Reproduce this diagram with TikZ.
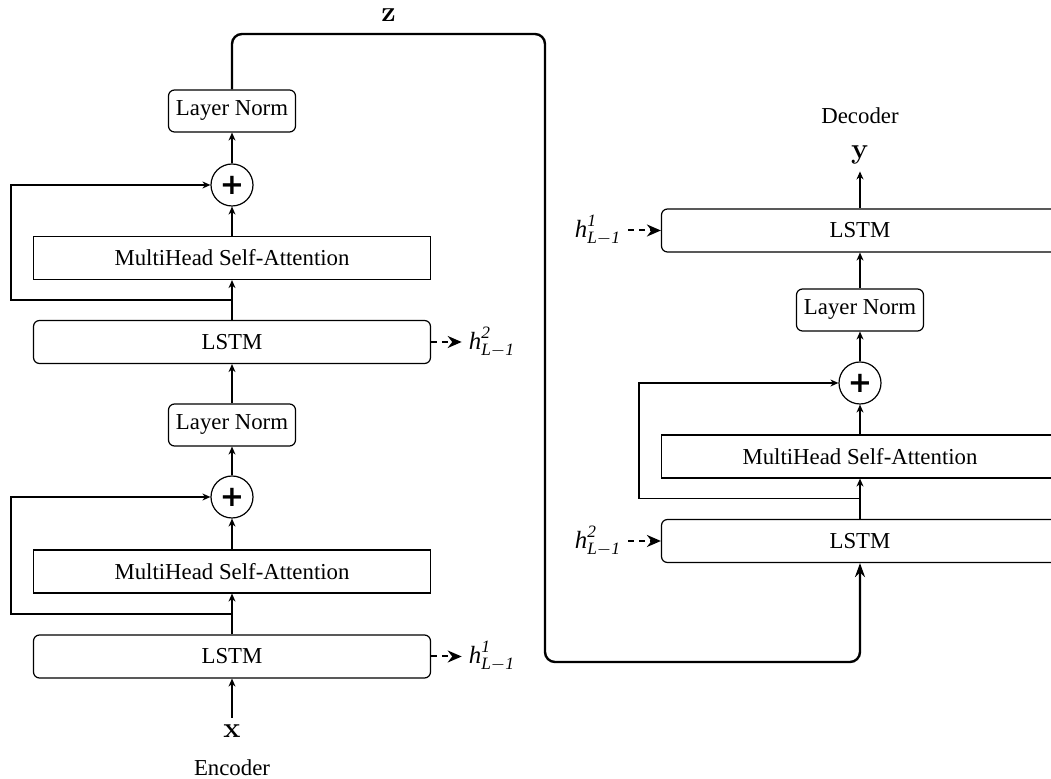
\documentclass[tikz,border=0pt]{standalone}
\usepackage[no-math]{fontspec}
\setmainfont{Liberation Serif}
\newfontfamily\plusfont{DejaVu Sans}
\usepackage{amsmath}
\usepackage{tikz}
\usetikzlibrary{positioning,calc,arrows.meta}
\tikzset{%
  block/.style  = {draw, rectangle, rounded corners=3pt, minimum height=21.5pt,
    minimum width=198.5pt},
  attn/.style   = {draw, rectangle, minimum height=21.5pt, minimum width=198.5pt},
  norm/.style   = {draw, rectangle, rounded corners=3pt, minimum height=21pt,
    minimum width=63.5pt},
  sum/.style    = {draw, circle, minimum size=21pt, inner sep=0pt,
    font=\plusfont\fontsize{14.5}{16}\selectfont\bfseries}, % Adder
  vec/.style    = {font=\fontsize{14.6}{17}\selectfont},
  hlabel/.style = {font=\fontsize{12.4}{15}\selectfont},
  hidden/.style = {dash pattern=on 3pt off 2.4pt, line width=1pt,
    -{Stealth[length=7pt,width=6pt]}},
  zline/.style  = {line width=1.2pt, rounded corners=5pt,
    -{Stealth[length=7pt,width=5pt]}}
}
\newcommand{\hstate}[1]{$\textit{h}^{\textit{#1}}_{\textit{L}-\textit{1}}$}

\begin{document}
\begin{tikzpicture}[line width=0.6pt, >={Stealth[length=4pt,width=3.5pt]},
  font=\fontsize{11.4}{13.7}\selectfont]

  \useasboundingbox (0,0) rectangle (525.5pt,-389.5pt);

  % encoder
  \node at (116pt,-328.25pt) [block] (lstmA) {LSTM};
  \node [attn, above of=lstmA, node distance=42.5pt] (mhsaA) {MultiHead Self-Attention};
  \node [sum, above of=mhsaA, node distance=37.25pt] (sumA) {+};
  \node [norm, above of=sumA, node distance=36pt] (normA) {Layer Norm};
  \node [block, above of=normA, node distance=41.5pt] (lstmB) {LSTM};
  \node [attn, above of=lstmB, node distance=42pt] (mhsaB) {MultiHead Self-Attention};
  \node [sum, above of=mhsaB, node distance=36.5pt] (sumB) {+};
  \node [norm, above of=sumB, node distance=37pt] (normB) {Layer Norm};

  \node [vec, below of=lstmA, node distance=37.5pt] (xIn) {$\mathbf{x}$};
  \node [below of=xIn, node distance=18.25pt] (encLabel) {Encoder};
  \node [hlabel, right of=lstmA, node distance=130pt] (hA1) {\hstate{1}};
  \node [hlabel, right of=lstmB, node distance=130pt] (hB2) {\hstate{2}};

  % decoder
  \node at (430pt,-270.5pt) [block] (lstmC) {LSTM};
  \node [attn, above of=lstmC, node distance=42.25pt] (mhsaC) {MultiHead Self-Attention};
  \node [sum, above of=mhsaC, node distance=36.75pt] (sumC) {+};
  \node [norm, above of=sumC, node distance=36.5pt] (normC) {Layer Norm};
  \node [block, above of=normC, node distance=39.75pt] (lstmD) {LSTM};

  \node [vec, above of=lstmD, node distance=37.75pt] (yOut) {$\mathbf{y}$};
  \node [above of=yOut, node distance=19.5pt] (decLabel) {Decoder};
  \node [hlabel, left of=lstmC, node distance=131pt] (hC2) {\hstate{2}};
  \node [hlabel, left of=lstmD, node distance=131pt] (hD1) {\hstate{1}};

  % split points of the residual paths
  \coordinate (splitA) at ($(lstmA.north)!0.5!(mhsaA.south)$);
  \coordinate (splitB) at ($(lstmB.north)!0.5!(mhsaB.south)$);
  \coordinate (splitC) at ($(lstmC.north)!0.5!(mhsaC.south)$);

  \draw[->] (xIn) -- (lstmA);
  \draw[->] (lstmA) -- (mhsaA);
  \draw[->] (mhsaA) -- (sumA);
  \draw[->] (sumA) -- (normA);
  \draw[->] (normA) -- (lstmB);
  \draw[->] (lstmB) -- (mhsaB);
  \draw[->] (mhsaB) -- (sumB);
  \draw[->] (sumB) -- (normB);
  \draw[->] (splitA) -| ([xshift=-11pt]mhsaA.west) |- (sumA);
  \draw[->] (splitB) -| ([xshift=-11pt]mhsaB.west) |- (sumB);

  \draw[->] (lstmC) -- (mhsaC);
  \draw[->] (mhsaC) -- (sumC);
  \draw[->] (sumC) -- (normC);
  \draw[->] (normC) -- (lstmD);
  \draw[->] (lstmD) -- (yOut);
  \draw[->] (splitC) -| ([xshift=-11pt]mhsaC.west) |- (sumC);

  % hidden states
  \draw[hidden] (lstmA) -- (hA1);
  \draw[hidden] (lstmB) -- (hB2);
  \draw[hidden] (hC2) -- (lstmC);
  \draw[hidden] (hD1) -- (lstmD);

  % latent z
  \coordinate (zTop) at (272.5pt,-17pt);
  \coordinate (zBot) at (272.5pt,-331pt);
  \coordinate (zMid) at ($(normB |- zTop)!0.5!(zTop)$);
  \node [vec, above of=zMid, node distance=9.5pt] (zLat) {$\mathbf{z}$};
  \draw[zline] (normB) |- (zTop) -- (zBot) -| (lstmC);

\end{tikzpicture}
\end{document}
